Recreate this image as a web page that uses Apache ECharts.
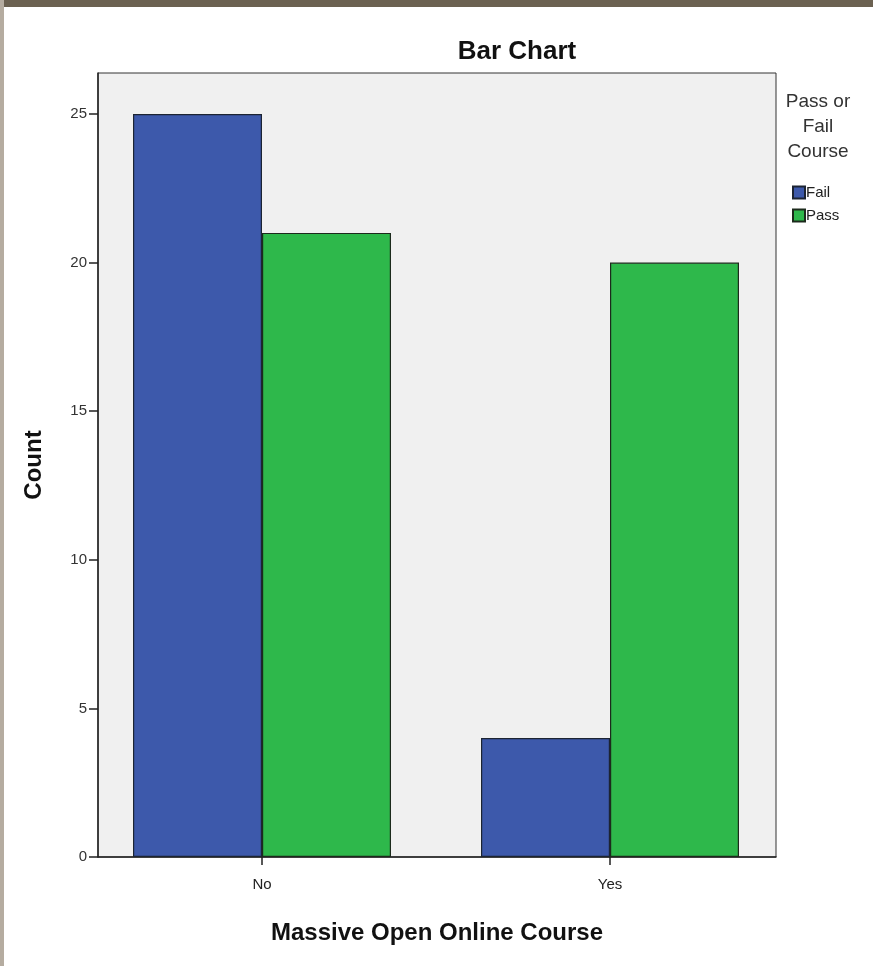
<!DOCTYPE html>
<html><head><meta charset="utf-8">
<script src="https://cdn.jsdelivr.net/npm/echarts@6/dist/echarts.min.js"></script>
<style>html,body{margin:0;padding:0;background:#fff}#c{width:873px;height:966px}</style>
</head><body><div id="c"></div>
<script>
const categories = ['No', 'Yes'];
const failCounts = [25, 4];
const passCounts = [21, 20];
const yTicks = [0, 5, 10, 15, 20, 25];
const seriesNames = ['Fail', 'Pass'];

const chart = echarts.init(document.getElementById('c'));
const FONT = '"Liberation Sans Narrow", "Liberation Sans", Arial, sans-serif';
const YMAX = 26.38;
const TOP = 73, BOTTOM = 109;
chart.setOption({
  backgroundColor: '#ffffff',
  animation: false,
  title: {
    text: 'Bar Chart', left: 512, top: 34, textAlign: 'center',
    textStyle: { fontFamily: FONT, fontSize: 26, fontWeight: 'bold', color: '#111' }
  },
  legend: {
    data: seriesNames, orient: 'vertical', left: 787, top: 180,
    itemWidth: 12, itemHeight: 12, itemGap: 8,
    icon: 'rect',
    textStyle: { fontFamily: FONT, fontSize: 15, color: '#222', lineHeight: 14, padding: [0, 0, 0, -4] }
  },
  grid: [
    { left: 98, right: 97, top: TOP, bottom: BOTTOM, show: true, backgroundColor: '#f0f0f0', borderColor: '#333', borderWidth: 1 },
    { left: 88, right: 89, top: TOP, bottom: BOTTOM, show: false }
  ],
  xAxis: [
    { gridIndex: 0, type: 'value', min: 0, max: 1, show: true,
      axisLine: { show: true, onZero: false, lineStyle: { color: '#222', width: 1.5 } },
      axisTick: { show: false }, axisLabel: { show: false }, splitLine: { show: false },
      name: 'Massive Open Online Course', nameLocation: 'middle', nameGap: 64,
      nameTextStyle: { fontFamily: FONT, fontSize: 24, fontWeight: 'bold', color: '#111' } },
    { gridIndex: 1, type: 'category', data: categories,
      axisLine: { show: false },
      axisTick: { show: true, alignWithLabel: true, length: 8, lineStyle: { color: '#222', width: 1.5 } },
      axisLabel: { fontFamily: FONT, fontSize: 15, color: '#222', margin: 20 } }
  ],
  yAxis: [
    { gridIndex: 0, type: 'value', min: 0, max: YMAX, interval: 5,
      axisLine: { show: true, lineStyle: { color: '#222', width: 1.5 } },
      axisTick: { show: true, length: 9, customValues: yTicks, lineStyle: { color: '#222', width: 1.5 } },
      axisLabel: { fontFamily: FONT, fontSize: 15, color: '#333', margin: 11, customValues: yTicks },
      splitLine: { show: false },
      name: 'Count', nameLocation: 'middle', nameGap: 52, nameRotate: 90,
      nameTextStyle: { fontFamily: FONT, fontSize: 24, fontWeight: 'bold', color: '#111' } },
    { gridIndex: 1, type: 'value', min: 0, max: YMAX, show: false }
  ],
  series: [
    { name: seriesNames[0], type: 'bar', xAxisIndex: 1, yAxisIndex: 1, data: failCounts,
      barWidth: 129, barGap: '0%',
      itemStyle: { color: '#3d59ab', borderColor: '#1c2433', borderWidth: 1.2 } },
    { name: seriesNames[1], type: 'bar', xAxisIndex: 1, yAxisIndex: 1, data: passCounts,
      barWidth: 129, barGap: '0%',
      itemStyle: { color: '#2eb84b', borderColor: '#1c2a1c', borderWidth: 1.2 } }
  ],
  graphic: [
    { type: 'rect', shape: { x: 0, y: 0, width: 873, height: 7 }, style: { fill: '#6b6151' }, z: 100 },
    { type: 'rect', shape: { x: 0, y: 0, width: 4, height: 966 }, style: { fill: '#b5aca0' }, z: 100 },
    { type: 'text', x: 818, y: 89, z: 100,
      style: { text: 'Pass or\nFail\nCourse', align: 'center', verticalAlign: 'top', font: '19px ' + FONT, fill: '#333', lineHeight: 25 } }
  ]
});
</script></body></html>
